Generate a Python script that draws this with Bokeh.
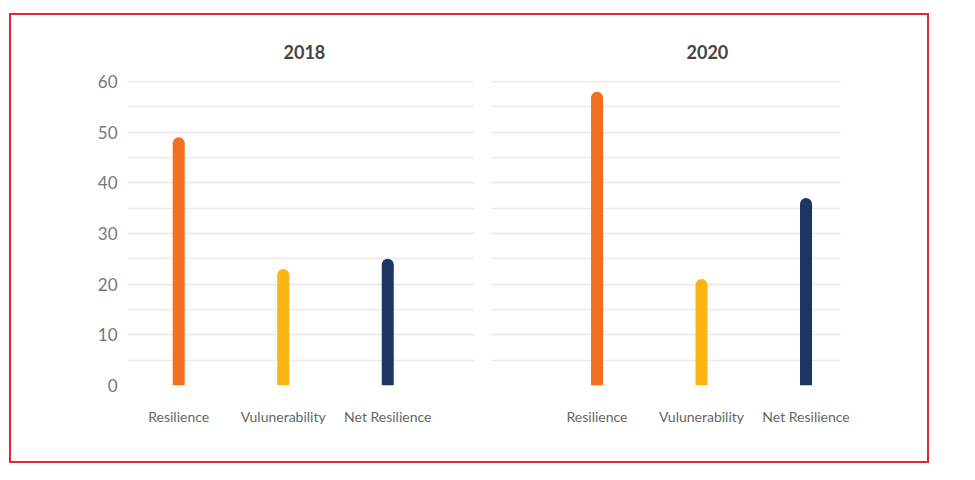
from bokeh.plotting import figure
from bokeh.layouts import row
from bokeh.models import Range1d, FixedTicker, SingleIntervalTicker
from bokeh.embed import file_html
from bokeh.resources import INLINE

categories = ["Resilience", "Vulunerability", "Net Resilience"]
years = ["2018", "2020"]
values_2018 = [49, 23, 25]
values_2020 = [58, 21, 37]
colors = ["#F37021", "#FDB515", "#1B3664"]

FONT = "Lato"
BAR_PX = 12
FRAME_H = 305
Y_MAX = 60.2


def make_panel(title, vals, x_range, show_y, title_offset, w, bl, br):
    p = figure(width=w, height=446, output_backend="svg", toolbar_location=None,
               x_range=x_range, y_range=Range1d(0, Y_MAX),
               min_border_left=bl, min_border_right=br,
               min_border_top=65, min_border_bottom=76)
    p.title.text = title
    p.title.align = "left"
    p.title.offset = title_offset
    p.title.standoff = 43
    p.title.text_font = FONT
    p.title.text_font_size = "18px"
    p.title.text_font_style = "bold"
    p.title.text_color = "#444444"
    p.outline_line_color = None
    p.background_fill_color = "white"
    p.border_fill_color = "white"

    xs = list(range(len(categories)))
    r_units = (BAR_PX / 2) * Y_MAX / FRAME_H
    tops = [v - r_units for v in vals]
    wid = 0.115
    p.vbar(x=xs, top=tops, bottom=0, width=wid, color=colors, line_color=None)
    p.scatter(x=xs, y=tops, size=BAR_PX, marker="circle", color=colors, line_color=None)

    p.xaxis.ticker = FixedTicker(ticks=xs)
    p.xaxis.major_label_overrides = {i: c for i, c in enumerate(categories)}
    p.xaxis.axis_line_color = None
    p.xaxis.major_tick_line_color = None
    p.xaxis.minor_tick_line_color = None
    p.xaxis.major_label_standoff = 16
    p.xaxis.major_label_text_font = FONT
    p.xaxis.major_label_text_font_size = "14px"
    p.xaxis.major_label_text_color = "#666666"
    p.xgrid.grid_line_color = None

    p.yaxis.ticker = SingleIntervalTicker(interval=10, num_minor_ticks=2)
    p.yaxis.axis_line_color = None
    p.yaxis.major_tick_line_color = None
    p.yaxis.minor_tick_line_color = None
    p.yaxis.major_label_standoff = 4
    p.yaxis.major_label_text_font = FONT
    p.yaxis.major_label_text_font_size = "17px"
    p.yaxis.major_label_text_color = "#777777"
    p.yaxis.visible = show_y
    p.ygrid.ticker = SingleIntervalTicker(interval=10, num_minor_ticks=2)
    p.ygrid.grid_line_color = "#ebebeb"
    p.ygrid.grid_line_width = 1.3
    p.ygrid.minor_grid_line_color = "#ebebeb"
    p.ygrid.minor_grid_line_width = 1.3
    return p


p1 = make_panel(years[0], values_2018, Range1d(-0.49, 2.83), True, 156, 471, 116, 8)
p2 = make_panel(years[1], values_2020, Range1d(-1.01, 2.33), False, 195, 445, 9, 87)

layout = row(p1, p2)
layout.styles = {"border": "2px solid #E8233B"}
layout.margin = (13, 0, 0, 9)

open("out.html", "w").write(file_html(layout, INLINE))
